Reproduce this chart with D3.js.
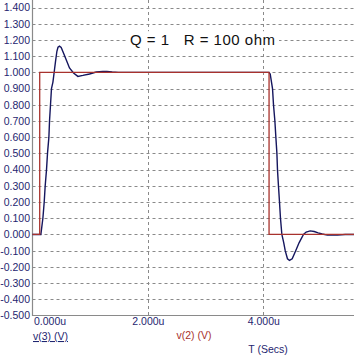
<!DOCTYPE html>
<html><head><meta charset="utf-8">
<script src="https://cdn.jsdelivr.net/npm/d3@7/dist/d3.min.js"></script>
<style>body{margin:0;background:#fff}svg{display:block}</style>
</head><body>
<script>
// ---- data ----
const yTicks = [-0.5,-0.4,-0.3,-0.2,-0.1,0,0.1,0.2,0.3,0.4,0.5,0.6,0.7,0.8,0.9,1.0,1.1,1.2,1.3,1.4];
const xTicks = [0, 2, 4];               // microseconds
const v2T = [0, 0.125, 0.125, 4.1, 4.1, 5.6];   // input pulse v(2)
const v2V = [0, 0, 1, 1, 0, 0];
const v3T = [0, 0.145, 0.180, 0.203, 0.220, 0.243, 0.260, 0.284, 0.295, 0.312, 0.329, 0.354, 0.381, 0.399, 0.423, 0.442, 0.468, 0.497, 0.537, 0.584, 0.641, 0.711, 0.787, 0.873, 0.988, 1.104, 1.220, 1.289, 1.381, 1.485,
  4.097, 4.120, 4.160, 4.177, 4.201, 4.218, 4.236, 4.246, 4.263, 4.281, 4.298, 4.322, 4.354, 4.380, 4.419, 4.454, 4.501, 4.562, 4.622, 4.697, 4.743, 4.813, 4.882, 4.951, 5.021, 5.111, 5.284, 5.42, 5.6];
const v3V = [0, 0, 0.1, 0.2, 0.3, 0.4, 0.5, 0.6, 0.7, 0.8, 0.9, 0.94, 1.016, 1.068, 1.13, 1.155, 1.162, 1.154, 1.119, 1.078, 1.027, 0.996, 0.975, 0.981, 0.99, 1.002, 1.006, 1.006, 1.002, 1.0,
  1.0, 0.99, 0.9, 0.8, 0.7, 0.6, 0.5, 0.4, 0.3, 0.2, 0.1, 0.0, -0.05, -0.10, -0.15, -0.16, -0.15, -0.10, -0.05, 0.0, 0.015, 0.022, 0.018, 0.010, 0.003, -0.004, -0.004, 0.0, 0.0];
const title = "Q = 1   R = 100 ohm";
const legend3 = "v(3) (V)", legend2 = "v(2) (V)", xTitle = "T (Secs)";

// ---- chart ----
const W = 354, H = 358;
const svg = d3.select("body").append("svg").attr("width", W).attr("height", H);
svg.append("rect").attr("width", W).attr("height", H).attr("fill", "#fff");

const x = d3.scaleLinear().domain([0, 5.6]).range([32.5, 355.6]);
const y = d3.scaleLinear().domain([-0.5, 1.4]).range([315.5, 7.5]);
const navy = "#1f2670", red = "#a8322d", grid = "#8a8a8a";
const font = "Liberation Sans, Arial, sans-serif";
const loc = d3.formatLocale({decimal: ".", thousands: ",", grouping: [3], currency: ["", ""], minus: "-"});
const f3 = loc.format(".3f");

// horizontal grid
svg.append("g").selectAll("line").data(yTicks.filter(d => d > -0.5)).join("line")
  .attr("x1", x(0)).attr("x2", W).attr("y1", d => Math.round(y(d)) + 0.5).attr("y2", d => Math.round(y(d)) + 0.5)
  .attr("stroke", grid).attr("stroke-dasharray", "3,3");
// vertical grid
svg.append("g").selectAll("line").data(xTicks.filter(d => d > 0)).join("line")
  .attr("x1", d => Math.round(x(d)) + 0.5).attr("x2", d => Math.round(x(d)) + 0.5).attr("y1", 0).attr("y2", y(-0.5))
  .attr("stroke", grid).attr("stroke-dasharray", "3,3");

// title box
const tg = svg.append("g");
const tt = tg.append("text").attr("x", 202.5).attr("y", y(1.2)).attr("dy", "0.35em")
  .attr("text-anchor", "middle").attr("font-family", font).attr("font-size", 15)
  .attr("textLength", 145).attr("lengthAdjust", "spacing")
  .attr("fill", "#111").style("white-space", "pre").text(title);
const bb = tt.node().getBBox();
tg.insert("rect", "text").attr("x", bb.x - 4).attr("y", bb.y).attr("width", bb.width + 8).attr("height", bb.height).attr("fill", "#fff");

// axes
svg.append("line").attr("x1", 32.5).attr("x2", 32.5).attr("y1", 0).attr("y2", 316).attr("stroke", grid).attr("stroke-width", 1.2);
svg.append("line").attr("x1", 32).attr("x2", W).attr("y1", 315.5).attr("y2", 315.5).attr("stroke", grid).attr("stroke-width", 1.2);

const yAxis = svg.append("g").attr("transform", "translate(31,0)")
  .call(d3.axisLeft(y).tickValues(yTicks).tickFormat(f3).tickSize(0).tickPadding(1));
yAxis.select(".domain").remove();
yAxis.selectAll("text").attr("font-family", font).attr("font-size", 10.5).attr("fill", navy);

const xAxis = svg.append("g").attr("transform", "translate(0,316)")
  .call(d3.axisBottom(x).tickValues(xTicks).tickFormat(d => f3(d) + "u").tickSize(0).tickPadding(2));
xAxis.select(".domain").remove();
xAxis.selectAll("text").attr("font-family", font).attr("font-size", 10.5).attr("fill", navy)
  .attr("text-anchor", (d) => d === 0 ? "start" : "middle")
  .attr("x", d => d === 0 ? 1 : 0);

// traces
const line = d3.line().x(d => x(d[0])).y(d => y(d[1]));
svg.append("path").datum(v3T.map((t, i) => [t, v3V[i]])).attr("d", line)
  .attr("fill", "none").attr("stroke", "#15165e").attr("stroke-width", 1.4);
svg.append("path").datum(v2T.map((t, i) => [t, v2V[i]])).attr("d", line)
  .attr("fill", "none").attr("stroke", red).attr("stroke-width", 1.3);

// legends
svg.append("text").attr("x", 33).attr("y", 340).attr("font-family", font).attr("font-size", 10.5)
  .attr("fill", navy).attr("text-decoration", "underline").text(legend3);
svg.append("text").attr("x", 194).attr("y", 339).attr("text-anchor", "middle").attr("font-family", font).attr("font-size", 10.5)
  .attr("fill", red).text(legend2);
svg.append("text").attr("x", 268).attr("y", 353).attr("text-anchor", "middle").attr("font-family", font).attr("font-size", 10.5)
  .attr("fill", navy).text(xTitle);
</script>
</body></html>
